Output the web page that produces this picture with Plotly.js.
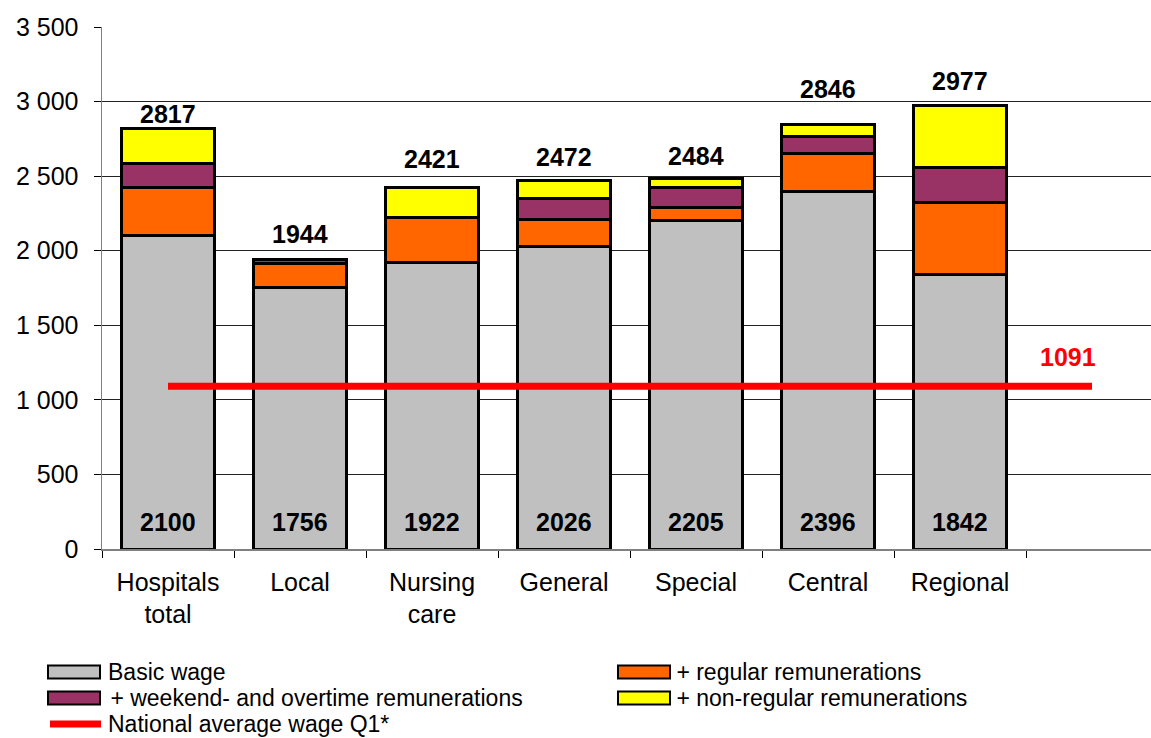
<!DOCTYPE html>
<html>
<head>
<meta charset="utf-8">
<script src="https://cdn.plot.ly/plotly-3.0.1.min.js"></script>
<style>html,body{margin:0;padding:0;background:#fff;}#chart{width:1151px;height:738px;}</style>
</head>
<body>
<div id="chart"></div>
<script>
const categories = ["Hospitals<br>total", "Local", "Nursing<br>care", "General", "Special", "Central", "Regional"];
const emptyCategory = " ";
const basicWage = [2100, 1756, 1922, 2026, 2205, 2396, 1842];
const regularRem = [321, 155, 304, 180, 82, 259, 478];
const weekendRem = [167, 33, 0, 141, 136, 108, 235];
const nonRegularRem = [229, 0, 195, 125, 61, 83, 422];
const totals = [2817, 1944, 2421, 2472, 2484, 2846, 2977];
const nationalAvg = 1091;
const yTicks = [0, 500, 1000, 1500, 2000, 2500, 3000, 3500];
const seriesNames = ["Basic wage", " + regular remunerations", " + weekend- and overtime remunerations", " + non-regular remunerations", "National average wage Q1*"];
const seriesColors = ["#C0C0C0", "#FF6600", "#993366", "#FFFF00", "#FF0000"];

// styling: pixel gap of each total label above its bar (placed by hand in the original)
const totalLabelGap = [15, 25, 29, 23, 23, 36, 24];

const FONT = "Liberation Sans, Arial, sans-serif";
const W = 1151, H = 738, ML = 102, MR = 0, MT = 27, MB = 189;
const PW = W - ML - MR, PH = H - MT - MB;
const px = v => (v - ML) / PW;
const py = v => (H - MB - v) / PH;

const outline = {color: "#000", width: 3};
const barVals = [basicWage, regularRem, weekendRem, nonRegularRem];
const traces = barVals.map((vals, k) => ({type: "bar", name: seriesNames[k], x: categories, y: vals,
  marker: {color: seriesColors[k], line: outline}}));
traces.push({type: "scatter", mode: "lines", name: seriesNames[4],
  x: [categories[0], emptyCategory], y: [nationalAvg, nationalAvg],
  line: {color: seriesColors[4], width: 7}});

const annotations = [];
categories.forEach((c, i) => {
  annotations.push({x: c, y: totals[i], text: "<b>" + totals[i] + "</b>", showarrow: false,
    yanchor: "middle", yshift: totalLabelGap[i], font: {family: FONT, size: 25, color: "#000"}});
  annotations.push({x: c, y: 0, text: "<b>" + basicWage[i] + "</b>", showarrow: false,
    yanchor: "bottom", yshift: 11, font: {family: FONT, size: 25, color: "#000"}});
});
annotations.push({x: emptyCategory, y: nationalAvg, text: "<b>" + nationalAvg + "</b>", showarrow: false,
  xanchor: "right", xshift: 6, yanchor: "bottom", yshift: 13, font: {family: FONT, size: 25, color: "#FF0000"}});

// custom legend (two columns)
const shapes = [];
const legendPos = [
  {sx: 48, tx: 106, row: 672},
  {sx: 618, tx: 668, row: 672},
  {sx: 48, tx: 102, row: 698},
  {sx: 618, tx: 668, row: 698},
  {sx: 48, tx: 106, row: 724}
];
seriesNames.forEach((name, k) => {
  const p = legendPos[k];
  if (k < 4) {
    shapes.push({type: "rect", xref: "paper", yref: "paper", x0: px(p.sx), x1: px(p.sx + 52),
      y0: py(p.row - 6.5), y1: py(p.row + 6.5), fillcolor: seriesColors[k], line: {color: "#000", width: 2}});
  } else {
    shapes.push({type: "line", xref: "paper", yref: "paper", x0: px(p.sx + 2), x1: px(p.sx + 53),
      y0: py(p.row), y1: py(p.row), line: {color: seriesColors[k], width: 7}});
  }
  annotations.push({xref: "paper", yref: "paper", x: px(p.tx), y: py(p.row), xanchor: "left", yanchor: "middle",
    text: name.replace(/ /g, "\u00a0"), showarrow: false, font: {family: FONT, size: 23, color: "#000"}});
});

const layout = {
  width: W, height: H,
  margin: {l: ML, r: MR, t: MT, b: MB},
  paper_bgcolor: "#fff", plot_bgcolor: "#fff",
  barmode: "stack", bargap: 0.29,
  separators: ", ",
  font: {family: FONT, size: 24, color: "#000"},
  showlegend: false,
  xaxis: {type: "category", categoryorder: "array", categoryarray: categories.concat([emptyCategory]),
    range: [-0.5, 7.447], showgrid: false, showline: true, linecolor: "#808080", linewidth: 1.5,
    ticks: "outside", tickson: "boundaries", ticklen: 7, tickcolor: "#000", tickwidth: 1,
    ticklabelstandoff: 10, tickfont: {family: FONT, size: 25, color: "#000"}, fixedrange: true},
  yaxis: {range: [0, 3500], tickvals: yTicks, tickformat: ",.0f", showgrid: true, gridcolor: "#222",
    gridwidth: 1, showline: true, linecolor: "#808080", linewidth: 1.5, ticks: "outside", ticklen: 7,
    tickcolor: "#000", zeroline: false, ticklabelstandoff: 10, tickfont: {family: FONT, size: 25, color: "#000"}, fixedrange: true},
  annotations: annotations,
  shapes: shapes
};
Plotly.newPlot("chart", traces, layout, {displayModeBar: false, staticPlot: true});
</script>
</body>
</html>
